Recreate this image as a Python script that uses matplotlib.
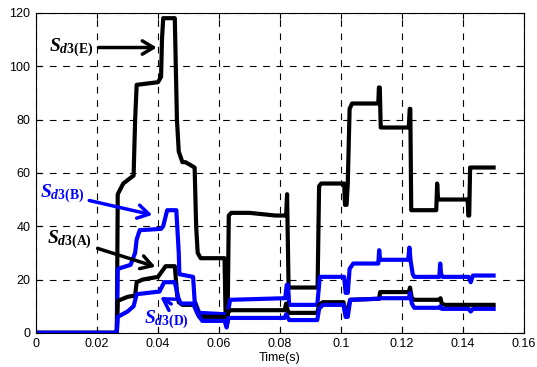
import matplotlib
matplotlib.use("Agg")
import matplotlib.pyplot as plt

plt.rcParams['font.family'] = ['Liberation Sans', 'DejaVu Sans']
plt.rcParams['mathtext.fontset'] = 'custom'
plt.rcParams['mathtext.rm'] = 'Liberation Serif:bold'
plt.rcParams['mathtext.it'] = 'Liberation Serif:italic:bold'
plt.rcParams['mathtext.bf'] = 'Liberation Serif:bold'

# S_d3(E)
e_t = [0, 0.0265, 0.0268, 0.0286, 0.032, 0.0325, 0.033, 0.040, 0.041, 0.0413, 0.0417,
       0.0455, 0.0462, 0.0468, 0.048, 0.049, 0.052, 0.0525, 0.053, 0.054, 0.0618, 0.0622,
       0.0628, 0.0632, 0.064, 0.07, 0.0785, 0.0788, 0.0795, 0.080, 0.0802, 0.081, 0.0815,
       0.082, 0.0823, 0.0828, 0.0923, 0.0928, 0.0935, 0.101, 0.1013, 0.1018, 0.1022, 0.1028,
       0.1036, 0.1122, 0.1124, 0.1127, 0.113, 0.1222, 0.1225, 0.1227, 0.123, 0.124, 0.1312,
       0.1315, 0.1318, 0.132, 0.1415, 0.1417, 0.142, 0.1423, 0.15]
e_v = [0, 0, 52, 56, 59, 80, 93, 94, 96, 110, 118,
       118, 80, 68, 64, 64, 62, 40, 30, 28, 28, 4,
       4, 44, 45, 45, 44, 44, 44, 44, 44, 44, 44,
       44, 52, 17, 17, 55, 56, 56, 48, 48, 56, 84,
       86, 86, 92, 92, 77, 77, 84, 84, 46, 46, 46,
       56, 50, 50, 50, 44, 44, 62, 62]

# S_d3(B)
b_t = [0, 0.0265, 0.0268, 0.031, 0.0325, 0.033, 0.034, 0.041, 0.0417, 0.043, 0.046,
       0.0468, 0.047, 0.0515, 0.052, 0.0535, 0.0618, 0.0625, 0.063, 0.0636, 0.0817,
       0.0822, 0.0826, 0.083, 0.0922, 0.0928, 0.093, 0.101, 0.1015, 0.1022, 0.1028, 0.104,
       0.1122, 0.1125, 0.1128, 0.113, 0.122, 0.1224, 0.1228, 0.1235, 0.124, 0.1322, 0.1325,
       0.1328, 0.1333, 0.1418, 0.1425, 0.1432, 0.15]
b_v = [0, 0, 24, 25.5, 30, 35, 38.5, 39, 40, 46, 46,
       30, 22, 21, 12, 7.5, 7, 2.5, 8, 12.4, 13,
       18, 18, 10.5, 10.5, 18, 21, 21, 15, 15, 24, 26,
       26, 31, 27.4, 27.4, 27.4, 32, 27, 22, 21, 21, 26,
       22, 21, 21, 19, 21.5, 21.5]

# S_d3(A)
a_t = [0, 0.0265, 0.0268, 0.030, 0.0325, 0.033, 0.035, 0.040, 0.0425, 0.0455, 0.0463,
       0.0468, 0.048, 0.052, 0.0535, 0.0618, 0.0625, 0.063, 0.064, 0.0815, 0.082, 0.0826,
       0.083, 0.0922, 0.0928, 0.094, 0.1008, 0.1013, 0.102, 0.103, 0.1125, 0.1128, 0.1222,
       0.1226, 0.1232, 0.124, 0.1322, 0.1326, 0.133, 0.134, 0.15]
a_v = [0, 0, 12, 13.5, 14, 19, 20, 21, 25, 25, 14,
       11.5, 10.5, 10.5, 6, 6, 3, 8, 8.5, 8.5, 11, 8,
       7.5, 7.5, 10.5, 11.5, 11.5, 8, 8, 12.4, 12.8, 15.3, 15.3,
       17, 13, 12.4, 12.4, 13, 11, 10.5, 10.5]

# S_d3(D)
d_t = [0, 0.0265, 0.0268, 0.030, 0.032, 0.033, 0.0405, 0.042, 0.0455, 0.0467, 0.0475,
       0.0515, 0.053, 0.0545, 0.0618, 0.0625, 0.063, 0.064, 0.0815, 0.082, 0.083, 0.0922,
       0.0928, 0.094, 0.1008, 0.1015, 0.1022, 0.103, 0.1125, 0.113, 0.1222, 0.1226, 0.1232,
       0.124, 0.1322, 0.1326, 0.133, 0.1418, 0.1425, 0.1432, 0.15]
d_v = [0, 0, 6, 8, 10, 14.5, 15.5, 19, 19, 13, 11,
       11, 7, 4.5, 4.5, 2, 5.5, 5.6, 5.6, 7, 4.8, 4.8,
       9, 10.5, 10.5, 6, 6, 12.4, 12.8, 13, 13, 15, 11,
       9.4, 9.4, 10, 9, 9, 8, 9, 9]

fig = plt.figure(figsize=(5.37, 3.67), dpi=100)
ax = fig.add_axes([0.067, 0.093, 0.909, 0.872])

ax.plot(e_t, e_v, color='black', lw=3.0, solid_joinstyle='round')
ax.plot(b_t, b_v, color='#0000ff', lw=3.0, solid_joinstyle='round')
ax.plot(a_t, a_v, color='black', lw=3.0, solid_joinstyle='round')
ax.plot(d_t, d_v, color='#0000ff', lw=3.0, solid_joinstyle='round')

ax.set_xlim(0, 0.16)
ax.set_ylim(0, 120)
ax.set_xticks([0, 0.02, 0.04, 0.06, 0.08, 0.1, 0.12, 0.14, 0.16])
ax.set_xticklabels(['0', '0.02', '0.04', '0.06', '0.08', '0.1', '0.12', '0.14', '0.16'])
ax.set_yticks([0, 20, 40, 60, 80, 100, 120])
ax.tick_params(direction='in', top=True, right=True, labelsize=9, length=4, pad=4)
ax.grid(True, color='black', linestyle=(0, (6, 6)), linewidth=0.8)
ax.set_xlabel('Time(s)', fontsize=9, labelpad=1)
for s in ax.spines.values():
    s.set_linewidth(0.8)

arrow = dict(arrowstyle='->, head_length=0.5, head_width=0.3', lw=2.5, mutation_scale=16)
ax.annotate(r'$S_{d3\mathrm{(E)}}$', xy=(0.0405, 107), xytext=(0.0042, 107),
            fontsize=14, color='black', va='center', ha='left',
            arrowprops=dict(arrow, color='black'))
ax.annotate(r'$S_{d3\mathrm{(B)}}$', xy=(0.039, 44), xytext=(0.0012, 52),
            fontsize=14, color='#0000ff', va='center', ha='left',
            arrowprops=dict(arrow, color='#0000ff'))
ax.annotate(r'$S_{d3\mathrm{(A)}}$', xy=(0.0400, 24.5), xytext=(0.0037, 35),
            fontsize=14, color='black', va='center', ha='left',
            arrowprops=dict(arrow, color='black'))
ax.annotate(r'$S_{d3\mathrm{(D)}}$', xy=(0.0400, 14), xytext=(0.0355, 5),
            fontsize=14, color='#0000ff', va='center', ha='left',
            arrowprops=dict(arrow, color='#0000ff', relpos=(0.75, 1.0)))

fig.savefig('out.png', dpi=100)
